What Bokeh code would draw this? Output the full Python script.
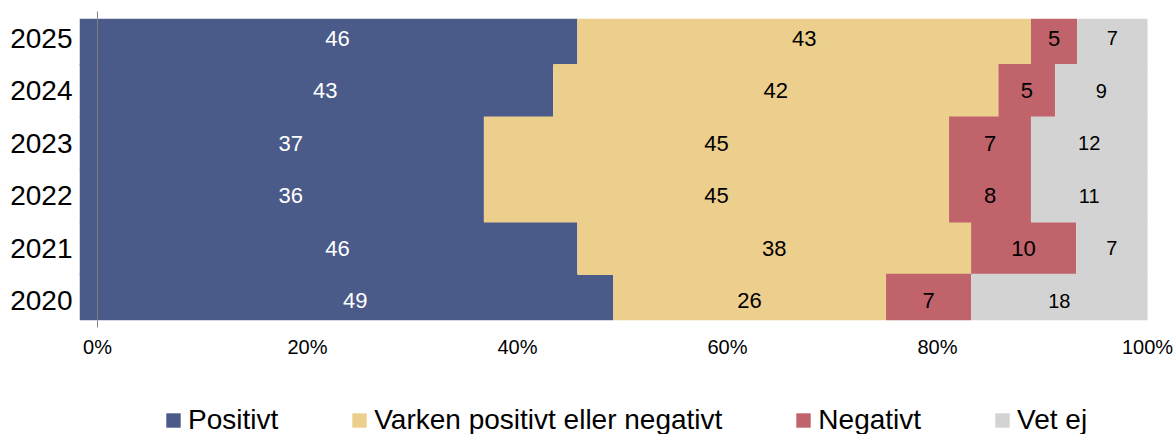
from bokeh.plotting import figure
from bokeh.layouts import column
from bokeh.models import (ColumnDataSource, Range1d, LinearAxis, FixedTicker,
                          Span, Legend, LegendItem)
from bokeh.core.properties import value
from bokeh.embed import file_html
from bokeh.resources import INLINE

# ---- data ----
years = [2020, 2021, 2022, 2023, 2024, 2025]
series = ["Positivt", "Varken positivt eller negativt", "Negativt", "Vet ej"]
# segment widths in percent, as drawn
positivt = [49.1, 45.7, 36.8, 36.8, 43.4, 45.7]
varken = [26.0, 37.5, 44.3, 44.3, 42.4, 43.2]
negativt = [8.1, 10.0, 7.8, 7.8, 5.4, 4.4]
vet_ej = [16.8, 6.8, 11.1, 11.1, 8.8, 6.7]
# printed labels
positivt_lbl = [49, 46, 36, 37, 43, 46]
varken_lbl = [26, 38, 45, 45, 42, 43]
negativt_lbl = [7, 10, 8, 7, 5, 5]
vet_ej_lbl = [18, 7, 11, 12, 9, 7]
x_ticks = [0, 20, 40, 60, 80, 100]
x_tick_labels = ["0%", "20%", "40%", "60%", "80%", "100%"]

colors = ["#4A5B8A", "#EDCF8D", "#C0636B", "#D3D3D3"]
label_colors = ["white", "black", "black", "black"]
label_sizes = ["22px", "22px", "22px", "20px"]
FONT = "Liberation Sans"

X_START, X_END = -1.714, 100.095
W = 1175

p = figure(width=W, height=390, output_backend="svg", toolbar_location=None,
           x_range=Range1d(X_START, X_END), y_range=Range1d(2019.62, 2025.38),
           x_axis_location=None, y_axis_location=None,
           min_border_left=79, min_border_right=27, min_border_top=18,
           min_border_bottom=70)
p.outline_line_color = None
p.xgrid.visible = False
p.ygrid.visible = False

# legend strip below the chart
p2 = figure(width=W, height=44, output_backend="svg", toolbar_location=None,
            x_range=Range1d(0, 1), y_range=Range1d(0, 1),
            x_axis_location=None, y_axis_location=None,
            min_border_left=79, min_border_right=27, min_border_top=0,
            min_border_bottom=0)
p2.outline_line_color = None
p2.xgrid.visible = False
p2.ygrid.visible = False

values = [positivt, varken, negativt, vet_ej]
labels = [positivt_lbl, varken_lbl, negativt_lbl, vet_ej_lbl]

cum = [0.0] * len(years)
items = []
for i, (vals, lbls) in enumerate(zip(values, labels)):
    left = [c for c in cum]
    right = [c + v for c, v in zip(cum, vals)]
    draw_left = [X_START if i == 0 else l for l in left]
    src = ColumnDataSource(dict(
        y=years, left=draw_left, right=right,
        xc=[(l + r) / 2 for l, r in zip(left, right)],
        txt=[str(t) for t in lbls]))
    p.hbar(y="y", left="left", right="right", height=1.02, source=src,
           fill_color=colors[i], line_color=None)
    p.text(x="xc", y="y", text="txt", source=src, text_align="center",
           text_baseline="middle", text_color=label_colors[i],
           text_font=value(FONT), text_font_size=label_sizes[i])
    # same series keyed in the legend strip (hidden there)
    r2 = p2.hbar(y="y", left="left", right="right", height=1.0, source=src,
                 fill_color=colors[i], line_color=None, visible=False)
    items.append(LegendItem(label=series[i], renderers=[r2]))
    cum = right

# zero line
p.add_layout(Span(location=0, dimension="height", line_color="#808080",
                  line_width=1, level="overlay"))

def tick0_axis():
    ax = LinearAxis(ticker=FixedTicker(ticks=[0]))
    ax.major_label_text_font_size = "1px"
    ax.major_label_text_color = None
    ax.major_label_standoff = 0
    ax.major_tick_in = 0
    ax.major_tick_out = 7
    ax.major_tick_line_color = "#808080"
    ax.axis_line_color = None
    ax.minor_tick_line_color = None
    return ax

p.add_layout(tick0_axis(), "above")
p.add_layout(tick0_axis(), "below")

xa = LinearAxis(ticker=FixedTicker(ticks=x_ticks),
                major_label_overrides={t: l for t, l in zip(x_ticks, x_tick_labels)})
xa.axis_line_color = None
xa.major_tick_line_color = None
xa.minor_tick_line_color = None
xa.major_tick_in = 0
xa.major_tick_out = 0
xa.major_label_standoff = 8
xa.major_label_text_font = FONT
xa.major_label_text_font_size = "20px"
xa.major_label_text_color = "black"
p.add_layout(xa, "below")

ya = LinearAxis(ticker=FixedTicker(ticks=years),
                major_label_overrides={y: str(y) for y in years})
ya.axis_line_color = None
ya.major_tick_line_color = None
ya.minor_tick_line_color = None
ya.major_tick_in = 0
ya.major_tick_out = 0
ya.major_label_standoff = 7
ya.major_label_text_font = FONT
ya.major_label_text_font_size = "28px"
ya.major_label_text_color = "black"
p.add_layout(ya, "left")

legend = Legend(items=items, orientation="horizontal", location=(85, -2))
legend.padding = 0
legend.margin = 0
legend.spacing = 72
legend.glyph_width = 18
legend.glyph_height = 18
legend.label_standoff = 6
legend.label_text_font = FONT
legend.label_text_font_size = "28px"
legend.label_text_color = "black"
legend.border_line_color = None
legend.background_fill_alpha = 0
legend.inactive_fill_alpha = 0
p2.add_layout(legend, "center")

layout = column(p, p2, spacing=0)
open("out.html", "w").write(file_html(layout, INLINE))
